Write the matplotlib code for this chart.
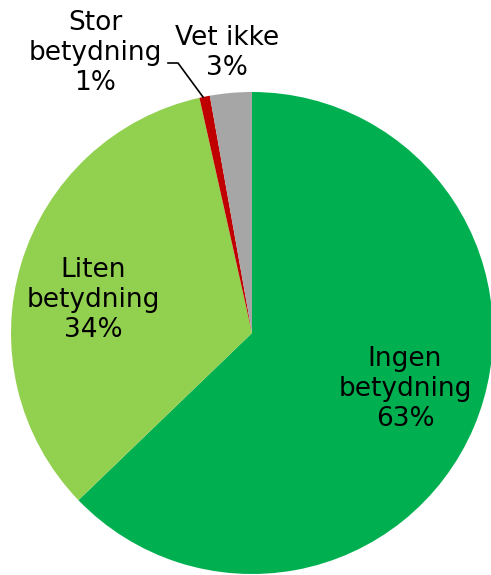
import matplotlib.pyplot as plt

# shares (labels show rounded values)
categories = ["Ingen\nbetydning", "Liten\nbetydning", "Stor\nbetydning", "Vet ikke"]
shares = [62.8, 33.7, 0.7, 2.8]
pct_labels = ["63%", "34%", "1%", "3%"]
colors = ["#00B050", "#92D050", "#C00000", "#A6A6A6"]

W, H = 491, 575
cx, cy, r = 252, 333, 241  # pie centre and radius in pixels

fig = plt.figure(figsize=(W / 100, H / 100), dpi=100)
ax = fig.add_axes([0, 0, 1, 1])
ax.pie(shares, colors=colors, startangle=90, counterclock=False, radius=1,
       wedgeprops=dict(linewidth=0))
ax.set_xlim(-cx / r, (W - cx) / r)
ax.set_ylim(-(H - cy) / r, cy / r)
ax.axis("off")


def px(x, y):
    return ((x - cx) / r, (cy - y) / r)


label_pos = [(405, 389), (93, 300), (95, 53), (227, 53)]
for name, pct, (x, y) in zip(categories, pct_labels, label_pos):
    ax.text(*px(x, y), f"{name}\n{pct}", ha="center", va="center",
            fontsize=19, linespacing=1.2, color="black")

# leader line for the small red slice
lx = [px(168, 63)[0], px(178, 63)[0], px(203, 97)[0]]
ly = [px(168, 63)[1], px(178, 63)[1], px(203, 97)[1]]
ax.plot(lx, ly, color="black", linewidth=1.2, clip_on=False)

fig.savefig("out.png", dpi=100)
